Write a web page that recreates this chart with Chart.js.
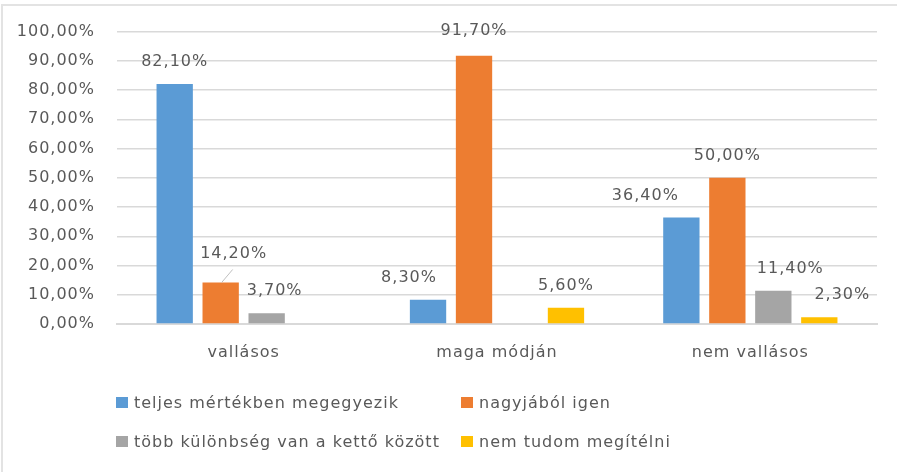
<!DOCTYPE html>
<html>
<head>
<meta charset="utf-8">
<script src="https://cdn.jsdelivr.net/npm/chart.js@4.4.1/dist/chart.umd.min.js"></script>
<style>
    html, body { margin: 0; padding: 0; background: #fff; }
    #wrap { position: relative; width: 897px; height: 472px; overflow: hidden; }
    #frame { position: absolute; left: 1px; top: 4px; width: 900px; height: 480px;
             border-top: 2px solid #e3e3e3; border-left: 2px solid #e3e3e3; box-sizing: border-box; }
    #chartBox { position: absolute; left: 0; top: 0; width: 897px; height: 472px; }
    .chart-legend { position: absolute; left: 116px; top: 392px; width: 700px;
                    display: grid; grid-template-columns: 345px 300px; row-gap: 19px;
                    font-family: "DejaVu Sans", sans-serif; font-size: 16px; color: #595959;
                    letter-spacing: 1px; }
    .chart-legend-item { display: flex; align-items: center; height: 20px; white-space: nowrap; }
    .legend-color { width: 12px; height: 11px; margin-right: 6px; }
</style>
</head>
<body>
<div id="wrap">
    <div id="frame"></div>
    <div id="chartBox"><canvas id="barChart"></canvas></div>
    <div class="chart-legend"></div>
</div>
<script>
const categories = ['vallásos', 'maga módján', 'nem vallásos'];
const seriesNames = ['teljes mértékben megegyezik', 'nagyjából igen', 'több különbség van a kettő között', 'nem tudom megítélni'];
const teljesValues = [82.1, 8.3, 36.4];
const nagyjabolValues = [14.2, 91.7, 50.0];
const tobbValues = [3.7, 0, 11.4];
const nemTudomValues = [0, 5.6, 2.3];
const colors = ['#5B9BD5', '#ED7D31', '#A5A5A5', '#FFC000'];

// label nudges (px), key = series-category, for labels Excel moved off-centre
const labelShift = {
    '1-0': [13, -7],
    '2-0': [8, 0],
    '0-1': [-19, 0],
    '1-1': [0, -3],
    '0-2': [-36, 0],
    '2-2': [17, 0],
    '3-2': [23, 0]
};

const fmt = v => v.toFixed(2).replace('.', ',') + '%';

// wider letter spacing to get closer to the original text widths
const spacing = {
    id: 'spacing',
    beforeDraw(chart) {
        chart.ctx.letterSpacing = '1px';
    }
};

const dataLabels = {
    id: 'dataLabels',
    afterDatasetsDraw(chart) {
        const ctx = chart.ctx;
        ctx.save();
        ctx.letterSpacing = '1px';
        ctx.font = '16px "DejaVu Sans", sans-serif';
        ctx.fillStyle = '#595959';
        ctx.textAlign = 'center';
        ctx.textBaseline = 'middle';
        chart.data.datasets.forEach((ds, di) => {
            chart.getDatasetMeta(di).data.forEach((bar, i) => {
                const v = ds.data[i];
                if (!v) return;
                const shift = labelShift[di + '-' + i] || [0, 0];
                ctx.fillText(fmt(v), bar.x + shift[0], bar.y - 22 + shift[1]);
                if (di === 1 && i === 0) {
                    // leader line for 14,20%
                    ctx.strokeStyle = '#bfbfbf';
                    ctx.lineWidth = 1;
                    ctx.beginPath();
                    ctx.moveTo(bar.x + 1, bar.y);
                    ctx.lineTo(bar.x + 12, bar.y - 13);
                    ctx.stroke();
                }
            });
        });
        ctx.restore();
    }
};

const ctx = document.getElementById('barChart').getContext('2d');
const seriesValues = [teljesValues, nagyjabolValues, tobbValues, nemTudomValues];

const chart = new Chart(ctx, {
    type: 'bar',
    data: {
        labels: categories,
        datasets: seriesNames.map((name, i) => ({
            label: name,
            data: seriesValues[i],
            backgroundColor: colors[i],
            categoryPercentage: 0.726,
            barPercentage: 0.79
        }))
    },
    options: {
        responsive: true,
        maintainAspectRatio: false,
        animation: false,
        layout: { padding: { top: 22, right: 20, left: 0, bottom: 0 } },
        plugins: {
            legend: { display: false },
            tooltip: { enabled: false }
        },
        scales: {
            x: {
                grid: { display: false, drawTicks: false },
                border: { color: '#d9d9d9', width: 2 },
                ticks: {
                    color: '#595959',
                    padding: 19,
                    font: { family: '"DejaVu Sans", sans-serif', size: 16 }
                },
                afterFit: scale => { scale.height = 148; }
            },
            y: {
                min: 0,
                max: 100,
                grid: { color: '#d9d9d9', lineWidth: 1.5, drawTicks: false },
                border: { display: false },
                ticks: {
                    stepSize: 10,
                    color: '#595959',
                    padding: 22,
                    font: { family: '"DejaVu Sans", sans-serif', size: 16 },
                    callback: v => fmt(v)
                },
                afterFit: scale => { scale.width = 117; }
            }
        }
    },
    plugins: [spacing, dataLabels]
});

// legend in two columns like the original
const legendContainer = document.querySelector('.chart-legend');
seriesNames.forEach((name, index) => {
    const legendItem = document.createElement('div');
    legendItem.classList.add('chart-legend-item');

    const colorBox = document.createElement('div');
    colorBox.classList.add('legend-color');
    colorBox.style.backgroundColor = colors[index];

    const labelText = document.createElement('span');
    labelText.textContent = name;

    legendItem.appendChild(colorBox);
    legendItem.appendChild(labelText);
    legendContainer.appendChild(legendItem);
});
</script>
</body>
</html>
